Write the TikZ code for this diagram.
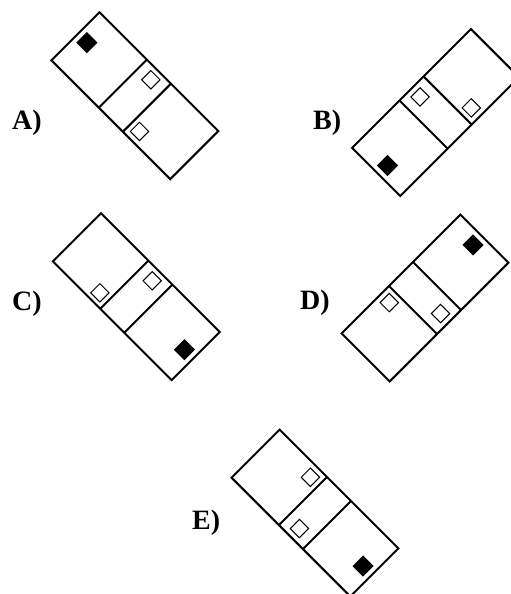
\documentclass[tikz,border=0pt]{standalone}
\usepackage{fontspec}
\setmainfont{Liberation Serif}

\begin{document}
\begin{tikzpicture}[x=1pt, y=-1pt]
    \tikzstyle{frame} = [draw=black, line width=2pt]
    \tikzstyle{solidmark} = [fill=black]
    \tikzstyle{openmark} = [draw=black, line width=1pt, fill=white]
    \tikzstyle{letter} = [anchor=base west, inner sep=0pt,
        font=\bfseries\fontsize{28pt}{30pt}\selectfont]

    \useasboundingbox (0,0) rectangle (511,594);
    \clip (0,0) rectangle (511,594);

    % A
    \begin{scope}[shift={(134.9,95.7)}, rotate=-45]
        \draw[frame] (-84,-34) rectangle (84,34);
        \draw[frame] (-17,-34) -- (-17,34) (17,-34) -- (17,34);
        \fill[solidmark] (-79,-11) rectangle ++(15,15);
        \draw[openmark] (-6.5,-29) rectangle ++(13,13);
        \draw[openmark] (22,15.5) rectangle ++(13,13);
    \end{scope}
    \node(labela) [letter] at (12,129) {A)};

    % B
    \begin{scope}[shift={(435.6,112.5)}, rotate=45]
        \draw[frame] (-84,-34) rectangle (84,34);
        \draw[frame] (-17,-34) -- (-17,34) (17,-34) -- (17,34);
        \fill[solidmark] (-79,-4) rectangle ++(15,15);
        \draw[openmark] (-6.5,-28.5) rectangle ++(13,13);
        \draw[openmark] (22,15.5) rectangle ++(13,13);
    \end{scope}
    \node(labelb) [letter] at (313,129) {B)};

    % C
    \begin{scope}[shift={(136.3,296.7)}, rotate=-45]
        \draw[frame] (-84,-34) rectangle (84,34);
        \draw[frame] (-17,-34) -- (-17,34) (17,-34) -- (17,34);
        \draw[openmark] (-35,16.5) rectangle ++(13,13);
        \draw[openmark] (-6.5,-29) rectangle ++(13,13);
        \fill[solidmark] (64,-4) rectangle ++(15,15);
    \end{scope}
    \node(labelc) [letter] at (12,310.5) {C)};

    % D
    \begin{scope}[shift={(425,298)}, rotate=45]
        \draw[frame] (-84,-34) rectangle (84,34);
        \draw[frame] (-17,-34) -- (-17,34) (17,-34) -- (17,34);
        \fill[solidmark] (64,-11) rectangle ++(15,15);
        \draw[openmark] (-35,-28.5) rectangle ++(13,13);
        \draw[openmark] (-6.5,15.5) rectangle ++(13,13);
    \end{scope}
    \node(labeld) [letter] at (300,309.5) {D)};

    % E
    \begin{scope}[shift={(315,513)}, rotate=-45]
        \draw[frame] (-84,-34) rectangle (84,34);
        \draw[frame] (-17,-34) -- (-17,34) (17,-34) -- (17,34);
        \draw[openmark] (-35,-28.5) rectangle ++(13,13);
        \draw[openmark] (-6.5,15.5) rectangle ++(13,13);
        \fill[solidmark] (64,-4) rectangle ++(15,15);
    \end{scope}
    \node(labele) [letter] at (192,529.5) {E)};
\end{tikzpicture}
\end{document}
